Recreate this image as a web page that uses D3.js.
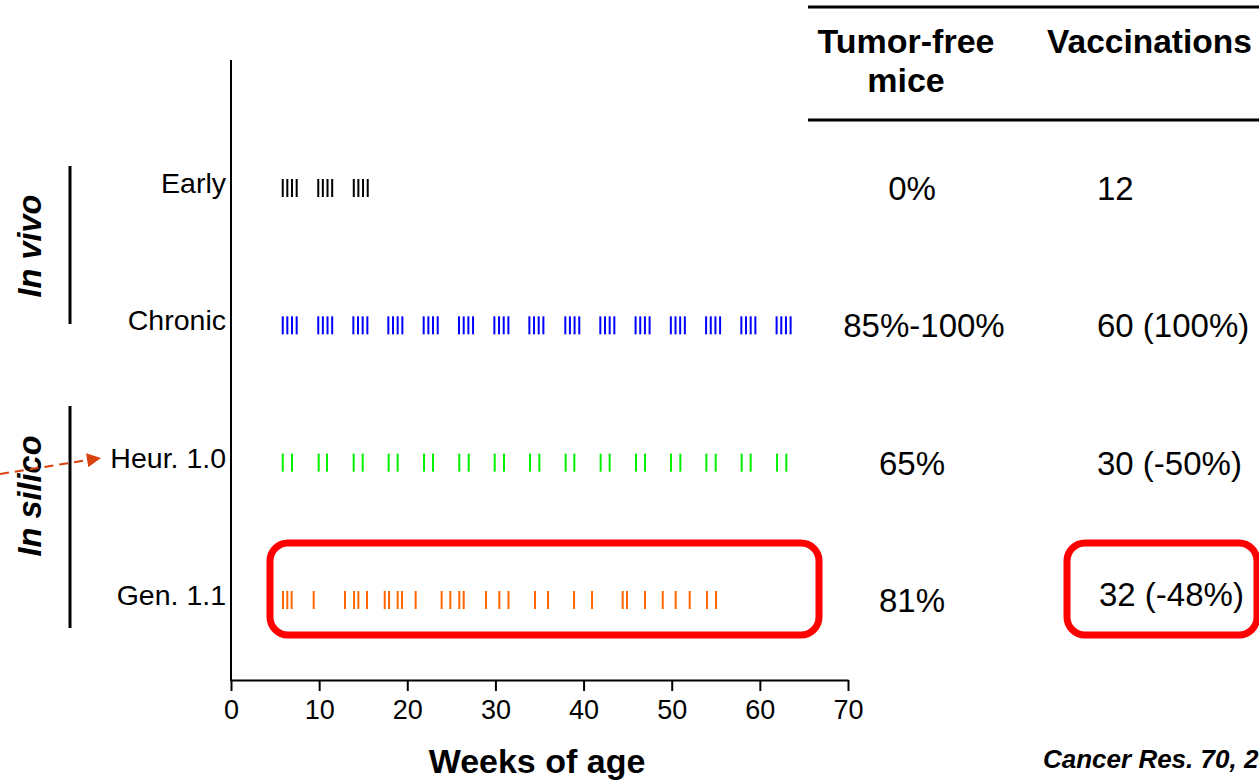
<!DOCTYPE html>
<html>
<head>
<meta charset="utf-8">
<script src="https://cdn.jsdelivr.net/npm/d3@7"></script>
<style>
body { margin: 0; background: #fff; }
text { font-family: "Liberation Sans", Arial, sans-serif; }
</style>
</head>
<body>
<div id="chart"></div>
<script>
// rows of the schedule
var categories = ["Early", "Chronic", "Heur. 1.0", "Gen. 1.1"]
var colors = ["#000000", "#0000ff", "#00f000", "#ff6600"]

// vaccination times, weeks of age
var early = [5.87, 6.39, 6.92, 7.45, 9.9, 10.42, 10.95, 11.48, 13.93, 14.45, 14.98, 15.51]
var chronic = [5.87, 6.39, 6.92, 7.45, 9.9, 10.42, 10.95, 11.48, 13.88, 14.41, 14.94, 15.47,
	17.85, 18.38, 18.91, 19.44, 21.86, 22.39, 22.92, 23.45, 25.87, 26.4, 26.93, 27.46,
	29.88, 30.41, 30.94, 31.47, 33.85, 34.38, 34.91, 35.44, 37.93, 38.45, 38.98, 39.51,
	41.9, 42.43, 42.96, 43.49, 45.9, 46.43, 46.96, 47.49, 49.9, 50.43, 50.96, 51.49,
	53.9, 54.43, 54.96, 55.49, 57.9, 58.43, 58.96, 59.49, 61.9, 62.43, 62.96, 63.49]
var heur = [5.87, 6.92, 9.95, 10.89, 13.92, 14.94, 17.89, 18.91, 21.9, 22.92, 25.9, 26.97,
	29.92, 30.97, 33.92, 34.98, 37.97, 38.95, 41.94, 42.96, 45.95, 46.97, 49.92, 50.98,
	53.93, 54.99, 57.94, 58.96, 61.95, 63.0]
var gen = [5.9, 6.39, 6.88, 9.38, 12.93, 13.96, 14.45, 15.43, 17.44, 17.93, 18.91, 19.4,
	20.95, 23.9, 24.88, 25.9, 26.4, 28.93, 30.44, 31.48, 34.49, 35.97, 38.92, 40.96,
	44.44, 44.93, 46.97, 48.98, 50.45, 52.04, 54.0, 55.03]
var schedules = [early, chronic, heur, gen]

var xTicks = [0, 10, 20, 30, 40, 50, 60, 70]
var tumorFree = ["0%", "85%-100%", "65%", "81%"]
var vaccinations = ["12", "60 (100%)", "30 (-50%)", "32 (-48%)"]

var svg = d3.select('#chart')
	.append('svg')
	.attr('width', 1259)
	.attr('height', 781)

var x = d3.scaleLinear().domain([0, 70]).range([231, 848])
var y = d3.scalePoint().domain(categories).range([188, 600])

// axes
svg.append('g')
	.attr('transform', 'translate(0,680)')
	.call(d3.axisBottom(x).tickValues(xTicks).tickSize(11).tickPadding(9).tickSizeOuter(0))
	.call(function(g) {
		g.select('.domain').attr('stroke-width', 2)
		g.selectAll('.tick line').attr('stroke-width', 2)
		g.selectAll('.tick text').attr('font-size', 27).attr('font-family', 'Liberation Sans, Arial, sans-serif')
	})
svg.append('line')
	.attr('x1', x(0)).attr('x2', x(0))
	.attr('y1', 60).attr('y2', 681)
	.attr('stroke', '#000').attr('stroke-width', 2)

svg.selectAll('.cat')
	.data(categories)
	.enter().append('text')
	.attr('x', 226)
	.attr('y', function(d) { return y(d) + 5 })
	.attr('text-anchor', 'end')
	.attr('font-size', 28.5)
	.text(function(d) { return d })

svg.append('text')
	.attr('x', 537)
	.attr('y', 773)
	.attr('text-anchor', 'middle')
	.attr('font-size', 34)
	.attr('font-weight', 'bold')
	.text('Weeks of age')

// vaccination marks
schedules.forEach(function(s, i) {
	svg.append('g').selectAll('line')
		.data(s)
		.enter().append('line')
		.attr('x1', function(d) { return x(d) })
		.attr('x2', function(d) { return x(d) })
		.attr('y1', y(categories[i]) - 9)
		.attr('y2', y(categories[i]) + 9)
		.attr('stroke', colors[i])
		.attr('stroke-width', 2)
})

// group brackets on the left
var groups = [{label: "In vivo", y1: 166, y2: 324, cy: 246}, {label: "In silico", y1: 406, y2: 628, cy: 496}]
groups.forEach(function(g) {
	svg.append('line')
		.attr('x1', 70).attr('x2', 70)
		.attr('y1', g.y1).attr('y2', g.y2)
		.attr('stroke', '#000').attr('stroke-width', 3)
	svg.append('text')
		.attr('transform', 'translate(41,' + g.cy + ') rotate(-90)')
		.attr('text-anchor', 'middle')
		.attr('font-size', 32.5)
		.attr('font-weight', 'bold')
		.attr('font-style', 'italic')
		.text(g.label)
})

// dashed arrow
svg.append('defs').append('marker')
	.attr('id', 'arr')
	.attr('viewBox', '0 0 10 10')
	.attr('refX', 10).attr('refY', 5)
	.attr('markerWidth', 16).attr('markerHeight', 14)
	.attr('markerUnits', 'userSpaceOnUse')
	.attr('orient', 'auto')
	.append('path').attr('d', 'M0,0L10,5L0,10Z').attr('fill', '#d9410f')
svg.append('line')
	.attr('x1', 0).attr('y1', 474)
	.attr('x2', 101).attr('y2', 458)
	.attr('stroke', '#d9410f').attr('stroke-width', 2)
	.attr('stroke-dasharray', '9,6')
	.attr('marker-end', 'url(#arr)')

// table
svg.append('line').attr('x1', 808).attr('x2', 1259).attr('y1', 7).attr('y2', 7)
	.attr('stroke', '#000').attr('stroke-width', 3)
svg.append('line').attr('x1', 808).attr('x2', 1259).attr('y1', 120).attr('y2', 120)
	.attr('stroke', '#000').attr('stroke-width', 3)
svg.append('text').attr('x', 906).attr('y', 53).attr('text-anchor', 'middle')
	.attr('font-size', 34).attr('font-weight', 'bold').text('Tumor-free')
svg.append('text').attr('x', 906).attr('y', 92).attr('text-anchor', 'middle')
	.attr('font-size', 34).attr('font-weight', 'bold').text('mice')
svg.append('text').attr('x', 1047).attr('y', 53)
	.attr('font-size', 33.5).attr('font-weight', 'bold').text('Vaccinations')

svg.selectAll('.tf')
	.data(tumorFree)
	.enter().append('text')
	.attr('x', function(d, i) { return i == 1 ? 924 : 912 })
	.attr('y', function(d, i) { return y(categories[i]) + 12 })
	.attr('text-anchor', 'middle')
	.attr('font-size', 33)
	.text(function(d) { return d })
svg.selectAll('.vac')
	.data(vaccinations)
	.enter().append('text')
	.attr('x', function(d, i) { return i == 3 ? 1099 : 1097 })
	.attr('y', function(d, i) { return y(categories[i]) + (i == 3 ? 6 : 12) })
	.attr('font-size', 33)
	.text(function(d) { return d })

// highlight boxes
svg.append('rect')
	.attr('x', 270).attr('y', 543)
	.attr('width', 549).attr('height', 92)
	.attr('rx', 18).attr('ry', 18)
	.attr('fill', 'none').attr('stroke', '#ff0000').attr('stroke-width', 7)
svg.append('rect')
	.attr('x', 1067).attr('y', 543)
	.attr('width', 190).attr('height', 92)
	.attr('rx', 18).attr('ry', 18)
	.attr('fill', 'none').attr('stroke', '#ff0000').attr('stroke-width', 7)

svg.append('text')
	.attr('x', 1043).attr('y', 768)
	.attr('font-size', 26)
	.attr('font-weight', 'bold')
	.attr('font-style', 'italic')
	.text('Cancer Res. 70, 2010')
</script>
</body>
</html>
